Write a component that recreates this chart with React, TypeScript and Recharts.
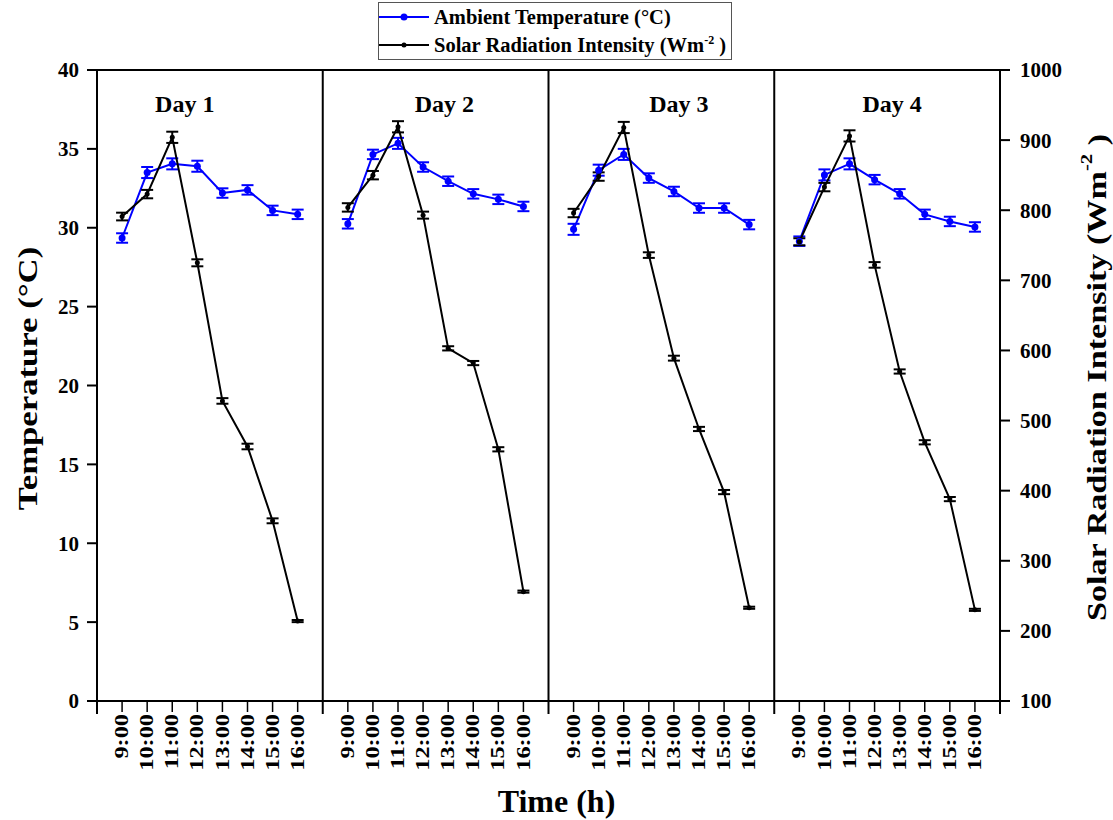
import {
    ComposedChart, Line, XAxis, YAxis, ErrorBar, ReferenceLine, ReferenceDot
} from 'recharts';

const SERIF = "'Liberation Serif', 'Times New Roman', serif";
const BLUE = '#0000ff';

// hours sampled each day
const hours = ['9:00', '10:00', '11:00', '12:00', '13:00', '14:00', '15:00', '16:00'];
const days = ['Day 1', 'Day 2', 'Day 3', 'Day 4'];

// ambient temperature (°C)
const tempDay1 = [29.35, 33.5, 34.05, 33.9, 32.2, 32.4, 31.1, 30.85];
const tempDay2 = [30.25, 34.65, 35.35, 33.85, 32.95, 32.15, 31.8, 31.35];
const tempDay3 = [29.9, 33.65, 34.65, 33.15, 32.3, 31.25, 31.25, 30.2];
const tempDay4 = [29.15, 33.35, 34.05, 33.05, 32.15, 30.85, 30.4, 30.05];

const tempErrDay1 = [0.3, 0.35, 0.35, 0.35, 0.3, 0.3, 0.3, 0.3];
const tempErrDay2 = [0.3, 0.3, 0.35, 0.3, 0.3, 0.3, 0.3, 0.3];
const tempErrDay3 = [0.35, 0.35, 0.35, 0.3, 0.3, 0.3, 0.3, 0.3];
const tempErrDay4 = [0.3, 0.35, 0.35, 0.3, 0.3, 0.3, 0.3, 0.3];

// solar radiation intensity (W/m2)
const radDay1 = [791, 823, 904, 725, 528, 463, 357, 214];
const radDay2 = [804, 850, 919, 793, 603, 582, 459, 256];
const radDay3 = [796, 848, 918, 736, 589, 488, 398, 233];
const radDay4 = [755, 833, 906, 722, 570, 469, 388, 230];

const radErrDay1 = [5.5, 6, 8, 5, 4, 4, 3.5, 1.5];
const radErrDay2 = [6, 6, 8, 5, 3, 3, 3, 1.5];
const radErrDay3 = [6, 6, 8, 4, 3.5, 3, 3, 1.5];
const radErrDay4 = [5, 6, 8, 4, 3, 3, 3, 1.5];

const tempTicks = [0, 5, 10, 15, 20, 25, 30, 35, 40];
const radTicks = [100, 200, 300, 400, 500, 600, 700, 800, 900, 1000];

const temps = [tempDay1, tempDay2, tempDay3, tempDay4];
const tempErrs = [tempErrDay1, tempErrDay2, tempErrDay3, tempErrDay4];
const rads = [radDay1, radDay2, radDay3, radDay4];
const radErrs = [radErrDay1, radErrDay2, radErrDay3, radErrDay4];

// each day gets one slot per hour plus a blank slot on each side
const SLOT = hours.length + 1;
const X_MAX = SLOT * days.length;

const rows: any[] = [];
days.forEach((_, di) => {
    if (di > 0) rows.push({ x: di * SLOT, temp: null, rad: null });
    hours.forEach((_, hi) => {
        rows.push({
            x: di * SLOT + hi + 1,
            temp: temps[di][hi],
            tempErr: tempErrs[di][hi],
            rad: rads[di][hi],
            radErr: radErrs[di][hi],
        });
    });
});

const xTicks = Array.from({ length: X_MAX + 1 }, (_, i) => i);
const dividers = [1, 2, 3].map(i => i * SLOT);

// where the "Day n" captions sit, in axis units
const dayLabelX = [3.5, 13.85, 23.2, 31.7];
const dayLabelY = 37.9;

const TimeTick = ({ x, y, payload }: any) => {
    const slot = payload.value % SLOT;
    if (slot === 0) {
        return <line x1={x} y1={y} x2={x} y2={y + 13} stroke="#000" strokeWidth={2} />;
    }
    return (
        <g>
            <line x1={x} y1={y} x2={x} y2={y + 11} stroke="#000" strokeWidth={1.5} />
            <text
                transform={`translate(${x},${y + 13}) rotate(-90) scale(1.28,1)`}
                textAnchor="end"
                dominantBaseline="central"
                fontFamily={SERIF}
                fontWeight="bold"
                fontSize={19}
                fill="#000"
            >
                {hours[slot - 1]}
            </text>
        </g>
    );
};

const LeftTitle = ({ viewBox }: any) => {
    const cx = viewBox.x + 28;
    const cy = viewBox.y + viewBox.height / 2 - 7;
    return (
        <text
            transform={`translate(${cx},${cy}) rotate(-90) scale(1.24,1)`}
            textAnchor="middle"
            dominantBaseline="central"
            fontFamily={SERIF}
            fontWeight="bold"
            fontSize={28}
            fill="#000"
        >
            Temperature (°C)
        </text>
    );
};

const RightTitle = ({ viewBox }: any) => {
    const cx = viewBox.x + 97;
    const cy = viewBox.y + viewBox.height / 2 - 8;
    return (
        <text
            transform={`translate(${cx},${cy}) rotate(-90) scale(1.22,1)`}
            textAnchor="middle"
            dominantBaseline="central"
            fontFamily={SERIF}
            fontWeight="bold"
            fontSize={28}
            fill="#000"
        >
            Solar Radiation Intensity (Wm
            <tspan dy={-11} fontSize={17}>-2</tspan>
            <tspan dy={11}> )</tspan>
        </text>
    );
};

const BottomTitle = ({ viewBox }: any) => (
    <text
        x={viewBox.x + viewBox.width / 2 + 8}
        y={viewBox.y + 111}
        textAnchor="middle"
        fontFamily={SERIF}
        fontWeight="bold"
        fontSize={32}
        fill="#000"
    >
        Time (h)
    </text>
);

const LegendBox = () => {
    const rowStyle = { display: 'flex', alignItems: 'center', height: 28 };
    const textStyle = { fontFamily: SERIF, fontWeight: 'bold' as const, fontSize: 20.5, color: '#000', marginLeft: 5 };
    return (
        <div style={{
            position: 'absolute', left: 378, top: 2, width: 354, height: 58,
            border: '1px solid #555', boxSizing: 'border-box', background: '#fff'
        }}>
            <div style={rowStyle}>
                <svg width={50} height={10}>
                    <line x1={0} y1={5} x2={50} y2={5} stroke={BLUE} strokeWidth={2} />
                    <circle cx={25} cy={5} r={3.5} fill={BLUE} />
                </svg>
                <span style={textStyle}>Ambient Temperature (°C)</span>
            </div>
            <div style={rowStyle}>
                <svg width={50} height={10}>
                    <line x1={0} y1={5} x2={50} y2={5} stroke="#000" strokeWidth={2} />
                    <circle cx={25} cy={5} r={2.5} fill="#000" />
                </svg>
                <span style={textStyle}>
                    Solar Radiation Intensity (Wm<sup style={{ fontSize: 12 }}>-2</sup> )
                </span>
            </div>
        </div>
    );
};

export default function App() {
    return (
        <div style={{ position: 'absolute', left: 0, top: 0, width: 1113, height: 820, background: '#fff' }}>
            <ComposedChart
                width={1113}
                height={820}
                data={rows}
                margin={{ top: 70, right: 0, bottom: 0, left: 0 }}
            >
                <XAxis
                    dataKey="x"
                    type="number"
                    domain={[0, X_MAX]}
                    ticks={xTicks}
                    interval={0}
                    height={119}
                    axisLine={{ stroke: '#000', strokeWidth: 2 }}
                    tickLine={false}
                    tickSize={0}
                    tickMargin={0}
                    tick={(p: any) => <TimeTick {...p} />}
                    label={(p: any) => <BottomTitle {...p} />}
                />
                <YAxis
                    yAxisId="left"
                    domain={[0, 40]}
                    ticks={tempTicks}
                    interval={0}
                    width={97}
                    axisLine={{ stroke: '#000', strokeWidth: 2 }}
                    tickLine={{ stroke: '#000', strokeWidth: 2 }}
                    tickSize={10}
                    tickMargin={8}
                    tick={{ fill: '#000', fontSize: 21, fontWeight: 'bold', fontFamily: SERIF }}
                    label={(p: any) => <LeftTitle {...p} />}
                />
                <YAxis
                    yAxisId="right"
                    orientation="right"
                    domain={[100, 1000]}
                    ticks={radTicks}
                    interval={0}
                    width={113}
                    axisLine={{ stroke: '#000', strokeWidth: 2 }}
                    tickLine={{ stroke: '#000', strokeWidth: 2 }}
                    tickSize={10}
                    tickMargin={10}
                    tick={{ fill: '#000', fontSize: 21, fontWeight: 'bold', fontFamily: SERIF }}
                    label={(p: any) => <RightTitle {...p} />}
                />

                <ReferenceLine yAxisId="left" y={40} stroke="#000" strokeWidth={2} />
                {dividers.map(d => (
                    <ReferenceLine key={d} yAxisId="left" x={d} stroke="#000" strokeWidth={2} />
                ))}

                {days.map((d, i) => (
                    <ReferenceDot
                        key={d}
                        yAxisId="left"
                        x={dayLabelX[i]}
                        y={dayLabelY}
                        r={0}
                        fill="none"
                        stroke="none"
                        label={{
                            value: d, position: 'center', fill: '#000',
                            fontSize: 24, fontWeight: 'bold', fontFamily: SERIF
                        }}
                    />
                ))}

                <Line
                    yAxisId="left"
                    type="linear"
                    dataKey="temp"
                    stroke={BLUE}
                    strokeWidth={2}
                    dot={{ r: 3.5, fill: BLUE, stroke: BLUE, strokeWidth: 0 }}
                    activeDot={false}
                    isAnimationActive={false}
                >
                    <ErrorBar dataKey="tempErr" direction="y" width={6} stroke={BLUE} strokeWidth={2} />
                </Line>
                <Line
                    yAxisId="right"
                    type="linear"
                    dataKey="rad"
                    stroke="#000"
                    strokeWidth={2}
                    dot={{ r: 2.5, fill: '#000', stroke: '#000', strokeWidth: 0 }}
                    activeDot={false}
                    isAnimationActive={false}
                >
                    <ErrorBar dataKey="radErr" direction="y" width={6} stroke="#000" strokeWidth={2} />
                </Line>
            </ComposedChart>
            <LegendBox />
        </div>
    );
}
